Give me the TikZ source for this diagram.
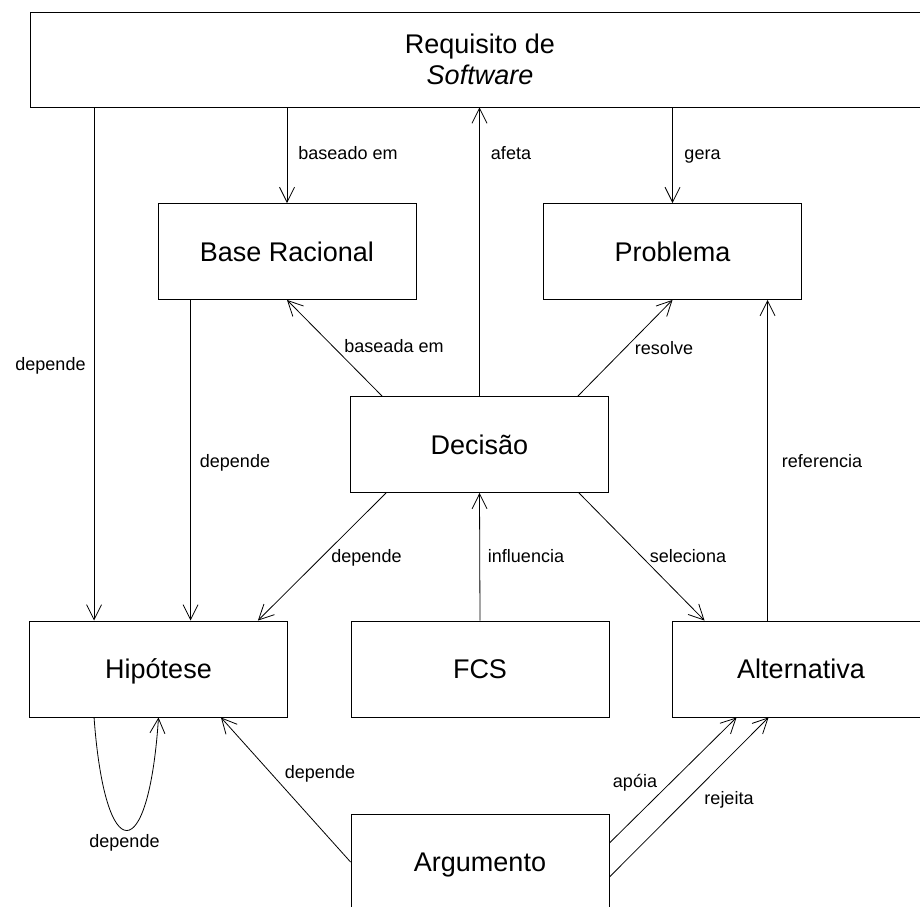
\documentclass[tikz,border=0pt]{standalone}
\usepackage{fontspec}
\setmainfont{Liberation Sans}
\usetikzlibrary{arrows.meta}
\begin{document}
\begin{tikzpicture}[x=1pt,y=1pt,
  box/.style={draw, line width=0.9pt, minimum width=258pt, minimum height=96pt,
    inner sep=0pt, font=\fontsize{27}{31}\selectfont},
  oneline/.style={text height=19.4pt, text depth=0pt},
  rel/.style={draw, line width=0.8pt, line join=round,
    -{Straight Barb[length=15pt,width=15pt]}},
  lbl/.style={font=\fontsize{18}{21}\selectfont, inner sep=0pt, anchor=base},
]
\useasboundingbox (0,0) rectangle (920,906);
\clip (0,0) rectangle (920,906);
\fill[white] (0,0) rectangle (920,906);

% concepts
\node[box, minimum width=900pt, minimum height=95pt, align=center] (req) at (480,846.5)
  {Requisito de\\\textit{Software}};
\node[box, oneline] (base) at (287,654.5) {Base Racional};
\node[box, oneline] (prob) at (672.5,654.5) {Problema};
\node[box, oneline] (dec) at (479.5,461.5) {Decisão};
\node[box, oneline] (hip) at (158.5,237) {Hipótese};
\node[box, oneline] (fcs) at (480,237) {FCS};
\node[box, oneline] (alt) at (801,237) {Alternativa};
\node[box, oneline] (arg) at (480,44) {Argumento};

% relations
\coordinate (h1) at ([xshift=65pt]hip.north west);
\draw[rel] (h1 |- req.south) -- (h1);
\draw[rel] (base.north |- req.south) -- (base.north);
\draw[rel] (dec.north) -- (dec.north |- req.south);
\draw[rel] (prob.north |- req.south) -- (prob.north);
\draw[rel] ([xshift=32pt]dec.north west) -- (base.south);
\draw[rel] ([xshift=-31pt]dec.north east) -- (prob.south);
\coordinate (b1) at ([xshift=33pt]base.south west);
\draw[rel] (b1) -- (b1 |- hip.north);
\draw[rel] ([xshift=36pt]dec.south west) -- ([xshift=-30pt]hip.north east);
\draw[rel] (fcs.north) -- (dec.south);
\draw[rel] ([xshift=-30pt]dec.south east) -- ([xshift=33pt]alt.north west);
\coordinate (a1) at ([xshift=96pt]alt.north west);
\draw[rel] (a1) -- (a1 |- prob.south);
\coordinate (loopa) at (105,38);
\coordinate (loopb) at (148.5,38);
\draw[rel] ([xshift=65pt]hip.south west) .. controls (loopa) and (loopb) .. (hip.south);
\draw[rel] (arg.west) -- ([xshift=-67pt]hip.south east);
\draw[rel] ([yshift=19pt]arg.east) -- ([xshift=65pt]alt.south west);
\draw[rel] ([yshift=-15pt]arg.east) -- ([xshift=97pt]alt.south west);

% relation names
\node[lbl] (t1) at (50.5,535) {depende};
\node[lbl] (t2) at (348,746) {baseado em};
\node[lbl] (t3) at (511,746) {afeta};
\node[lbl] (t4) at (702.5,746) {gera};
\node[lbl] (t5) at (394,553) {baseada em};
\node[lbl] (t6) at (664,551) {resolve};
\node[lbl] (t7) at (235,439) {depende};
\node[lbl] (t8) at (366.5,344) {depende};
\node[lbl] (t9) at (526,344) {influencia};
\node[lbl] (t10) at (688,344) {seleciona};
\node[lbl] (t11) at (822,439) {referencia};
\node[lbl] (t12) at (124.5,59) {depende};
\node[lbl] (t13) at (320,128) {depende};
\node[lbl] (t14) at (635,119) {apóia};
\node[lbl] (t15) at (729,102) {rejeita};
\end{tikzpicture}
\end{document}
